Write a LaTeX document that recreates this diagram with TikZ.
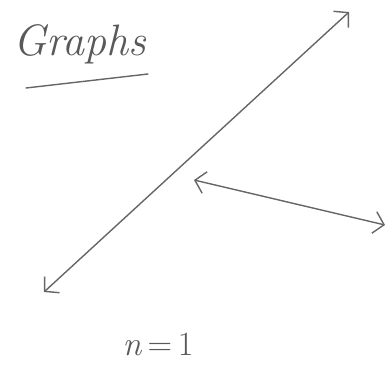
\documentclass[tikz,border=0pt]{standalone}
\usepackage{tikz}
\usetikzlibrary{arrows.meta,positioning,calc}

\begin{document}
\begin{tikzpicture}[
  x=1pt, y=-1pt,
  ink/.style={draw=black!60, line width=1.4pt, line cap=round},
  dblarr/.style={ink, {Straight Barb[length=10pt,width=22pt]}-{Straight Barb[length=10pt,width=22pt]}},
  lbl/.style={text=black!65, font=\fontsize{44}{44}\selectfont\itshape},
]
\useasboundingbox (0,0) rectangle (390,367);
\node[lbl] (title) at (80,44) {Graphs};
\coordinate (ulA) at (26,88);
\coordinate (ulB) at (148,74);
\draw[ink] (ulA) -- (ulB);
% long line
\coordinate (a1) at (44,292);
\coordinate (a2) at (349,12);
\draw[dblarr] (a1) -- (a2);
% short line
\coordinate (b1) at (194,180);
\coordinate (b2) at (385,225);
\draw[dblarr] (b1) -- (b2);
\node[lbl, font=\fontsize{34}{34}\selectfont] (count) at (158,344) {\textit{n}\,=\,1};
\end{tikzpicture}
\end{document}
